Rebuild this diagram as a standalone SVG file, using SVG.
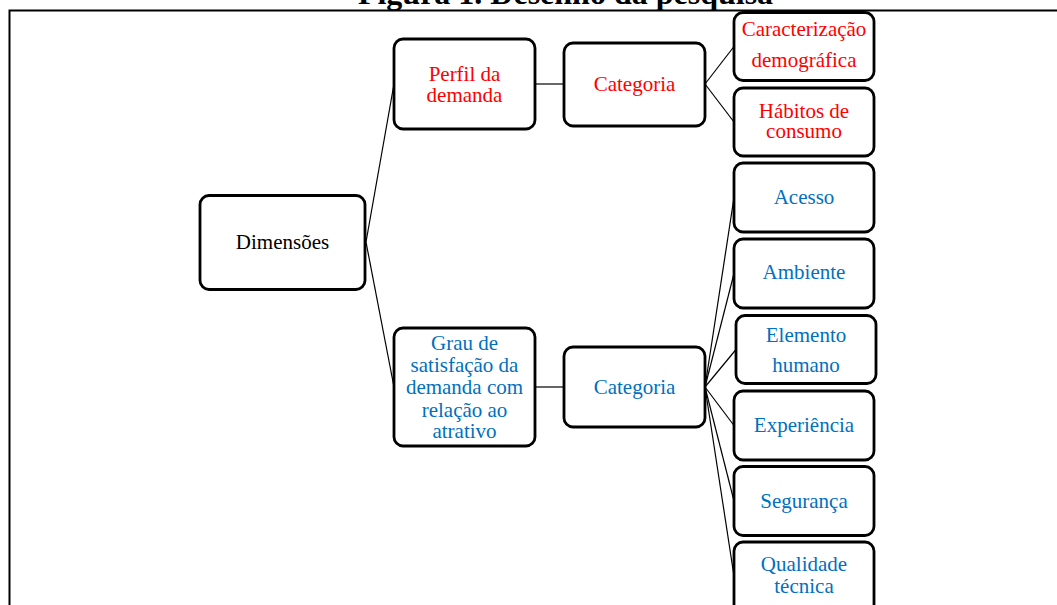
<svg xmlns="http://www.w3.org/2000/svg" width="1057" height="605" viewBox="0 0 1057 605">
<style>
.box{fill:#fff;stroke:#000;stroke-width:2.8}
.t{font-family:"Liberation Serif","Times New Roman",serif;font-size:21px;text-anchor:middle}
.red{fill:#ff0000}
.blue{fill:#0070c0}
.blk{fill:#000}
.c{stroke:#000;stroke-width:1.2;fill:none}
</style>
<rect x="0" y="0" width="1057" height="605" fill="#fff"/>
<text x="565.5" y="4" font-family="'Liberation Serif','Times New Roman',serif" font-size="32" font-weight="bold" text-anchor="middle">Figura 1. Desenho da pesquisa</text>
<path d="M9.5 605 V10.5 H1057" stroke="#000" stroke-width="2" fill="none"/>
<g id="connectors">
<line class="c" x1="366" y1="242" x2="394" y2="84"/>
<line class="c" x1="366" y1="242" x2="394" y2="387"/>
<line class="c" x1="535" y1="84" x2="564" y2="84"/>
<line class="c" x1="535" y1="387" x2="564" y2="387"/>
<line class="c" x1="705" y1="84" x2="734" y2="46.5"/>
<line class="c" x1="705" y1="84" x2="734" y2="122"/>
<line class="c" x1="705" y1="387" x2="734" y2="197.5"/>
<line class="c" x1="705" y1="387" x2="734" y2="273.5"/>
<line class="c" x1="705" y1="387" x2="736" y2="349.5"/>
<line class="c" x1="705" y1="387" x2="734" y2="425.5"/>
<line class="c" x1="705" y1="387" x2="734" y2="501"/>
<line class="c" x1="705" y1="387" x2="734" y2="576"/>
</g>
<g id="dimensoes"><rect class="box" x="200" y="195.5" width="165" height="94" rx="9"/><text class="t blk" x="282.5" y="249">Dimensões</text></g>
<g id="perfil"><rect class="box" x="394" y="39" width="141" height="90" rx="9"/><text class="t red" x="464.5" y="80.5">Perfil da</text><text class="t red" x="464.5" y="101.5">demanda</text></g>
<g id="categoria1"><rect class="box" x="564" y="43" width="141" height="83" rx="9"/><text class="t red" x="634.5" y="91">Categoria</text></g>
<g id="grau"><rect class="box" x="394" y="328" width="141" height="118" rx="9"/><text class="t blue" x="464.5" y="350">Grau de</text><text class="t blue" x="464.5" y="372">satisfação da</text><text class="t blue" x="464.5" y="394">demanda com</text><text class="t blue" x="464.5" y="416.5">relação ao</text><text class="t blue" x="464.5" y="437.5">atrativo</text></g>
<g id="categoria2"><rect class="box" x="564" y="347" width="141" height="80" rx="9"/><text class="t blue" x="634.5" y="394">Categoria</text></g>
<g id="caracterizacao"><rect class="box" x="734" y="12.5" width="140" height="68" rx="9"/><text class="t red" x="804" y="36">Caracterização</text><text class="t red" x="804" y="66.5">demográfica</text></g>
<g id="habitos"><rect class="box" x="734" y="88" width="140" height="68" rx="9"/><text class="t red" x="804" y="118">Hábitos de</text><text class="t red" x="804" y="138">consumo</text></g>
<g id="acesso"><rect class="box" x="734" y="163" width="140" height="69" rx="9"/><text class="t blue" x="804" y="203.5">Acesso</text></g>
<g id="ambiente"><rect class="box" x="734" y="239" width="140" height="69" rx="9"/><text class="t blue" x="804" y="279">Ambiente</text></g>
<g id="elemento"><rect class="box" x="736" y="315.5" width="140" height="68" rx="9"/><text class="t blue" x="806" y="341.5">Elemento</text><text class="t blue" x="806" y="371.5">humano</text></g>
<g id="experiencia"><rect class="box" x="734" y="391" width="140" height="69" rx="9"/><text class="t blue" x="804" y="431.5">Experiência</text></g>
<g id="seguranca"><rect class="box" x="734" y="466.5" width="140" height="69" rx="9"/><text class="t blue" x="804" y="507.5">Segurança</text></g>
<g id="qualidade"><rect class="box" x="734" y="542" width="140" height="80" rx="9"/><text class="t blue" x="804" y="571">Qualidade</text><text class="t blue" x="804" y="593">técnica</text></g>
</svg>
